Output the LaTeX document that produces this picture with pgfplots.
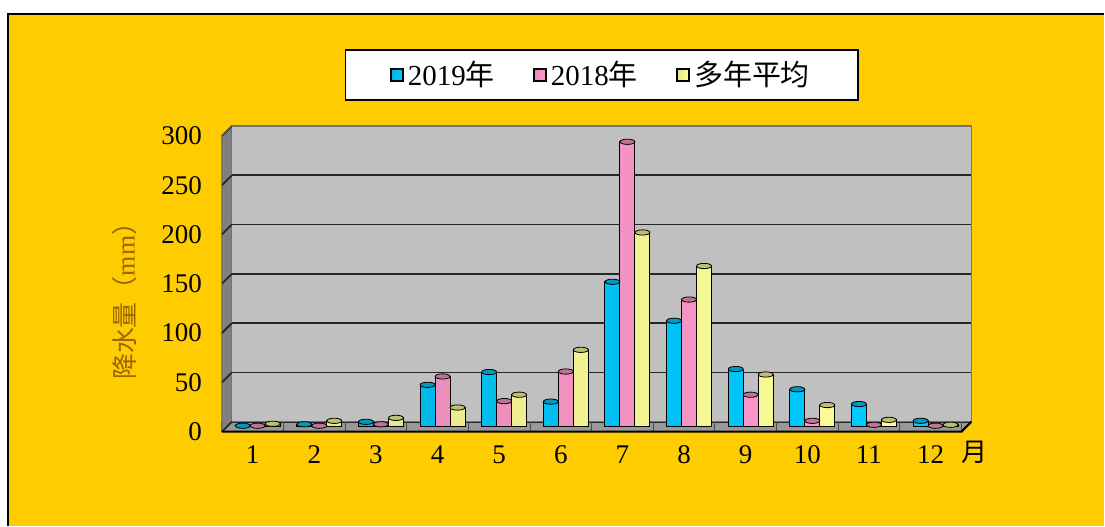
\documentclass[border=0pt]{standalone}
\usepackage{pgfplots}
\usepackage{pgfplotstable}
\pgfplotsset{compat=1.18}
\usepackage{fontspec}
\setmainfont{Liberation Serif}
\newfontfamily\cjk{Noto Sans CJK SC}
\definecolor{bg}{HTML}{FFCC00}
\definecolor{wall}{HTML}{C0C0C0}
\definecolor{side}{HTML}{808080}
\definecolor{floorc}{HTML}{999999}
\definecolor{cA}{HTML}{00CCFF}
\definecolor{cB}{HTML}{FF99CC}
\definecolor{cC}{HTML}{FFFF99}
\definecolor{ylab}{HTML}{996600}

\pgfplotstableread{
m a b c
1 1 1 3
2 2.5 1 6
3 5 2.5 9
4 42.5 51 19.5
5 55.5 26 32.5
6 25.5 56 78
7 147 289 197
8 107.5 129 163
9 58.5 32.5 53
10 38 6 22
11 23 2 7
12 6 1 2
}\data

\begin{document}
\begin{tikzpicture}
\fill[white] (0,0) rectangle (552.5pt,263pt);
\fill[bg] (4pt,0) rectangle (552.5pt,256pt);
\draw[black, line width=0.7pt] (4pt,0) -- (4pt,256pt) -- (552.5pt,256pt);
% left wall and floor
\fill[side] (111pt,47pt) -- (116pt,52pt) -- (116pt,200pt) -- (111pt,195pt) -- cycle;
\fill[floorc] (111pt,47pt) -- (116pt,52pt) -- (486pt,52pt) -- (481pt,47pt) -- cycle;
% back wall
\begin{axis}[
  at={(116pt,52pt)}, anchor=south west,
  width=370pt, height=148pt, scale only axis,
  xmin=0.5, xmax=12.5, ymin=0, ymax=300,
  xtick=\empty, ytick={0,50,...,300}, yticklabels={},
  tick style={draw=none},
  ymajorgrids, grid style={black!85, line width=0.9pt},
  axis background/.style={fill=wall},
  axis line style={draw=black!55, line width=0.6pt},
]
\end{axis}
\foreach \v in {0,50,...,300}
  \draw[black!85, line width=0.9pt] (116pt,{52pt+\v/300*148pt}) -- (111pt,{47pt+\v/300*148pt});
\foreach \k in {0,...,12}
  \draw[black!70, line width=0.5pt] ({111pt+\k*30.8333pt},47pt) -- ++(0,5pt);
\draw[black!60, line width=0.5pt] (111pt,47pt) -- (111pt,195pt) -- (116pt,200pt);
\draw[black, line width=1pt] (111pt,47pt) -- (481pt,47pt) -- (486pt,52pt);
% bars
\begin{axis}[
  at={(113.5pt,49.5pt)}, anchor=south west,
  width=370pt, height=148pt, scale only axis,
  xmin=0.5, xmax=12.5, ymin=0, ymax=300,
  enlargelimits=false, clip=false,
  axis line style={draw=none}, tick style={draw=none},
  xtick={1,...,12}, xticklabels={1,2,3,4,5,6,7,8,9,10,11,12},
  ytick={0,50,...,300},
  /pgf/number format/assume math mode=true,
  tick label style={font=\fontsize{13.5}{16}\selectfont},
  yticklabel style={xshift=-9pt, yshift=-2.5pt},
  xticklabel style={anchor=center, yshift=-14pt, xshift=-2.5pt},
  ylabel={{\cjk 降水量（}mm{\cjk ）}},
  ylabel style={at={(axis description cs:-0.138,0.446)}, anchor=center, rotate=0, color=ylab, font=\fontsize{13}{15}\selectfont},
  xlabel={\cjk 月},
  xlabel style={at={(axis description cs:1.011,-0.088)}, anchor=center, font=\fontsize{13}{15}\selectfont},
  legend columns=3,
  legend style={at={(0.507,1.189)}, anchor=center, draw=black, line width=0.8pt, fill=white,
    font=\fontsize{14.5}{17}\selectfont, inner xsep=22pt, inner ysep=3.5pt,
    /tikz/every even column/.append style={column sep=17pt}},
]
\addplot[ybar, bar width=7.5pt, bar shift=-7.5pt, draw=black, line width=0.5pt,
  left color=cA!88!black, middle color=cA!85!white, right color=cA,
  legend image code/.code={\draw[black,line width=1.1pt,fill=cA] (0pt,-3pt) rectangle (6pt,3pt);}]
  table[x=m,y=a]{\data};
\addlegendentry{2019{\cjk 年}}
\addplot[ybar, bar width=7.5pt, bar shift=0pt, draw=black, line width=0.5pt,
  left color=cB!90!black, middle color=cB!85!white, right color=cB,
  legend image code/.code={\draw[black,line width=1.1pt,fill=cB] (0pt,-3pt) rectangle (6pt,3pt);}]
  table[x=m,y=b]{\data};
\addlegendentry{2018{\cjk 年}}
\addplot[ybar, bar width=7.5pt, bar shift=7.5pt, draw=black, line width=0.5pt,
  left color=cC!90!black, middle color=cC!85!white, right color=cC,
  legend image code/.code={\draw[black,line width=1.1pt,fill=cC] (0pt,-3pt) rectangle (6pt,3pt);}]
  table[x=m,y=c]{\data};
\addlegendentry{{\cjk 多年平均}}
\addplot[only marks, mark=*, mark size=3.75pt, forget plot,
  mark options={xshift=-7.5pt, yscale=0.35, fill=cA!75!black, draw=black, line width=0.4pt}]
  table[x=m,y=a]{\data};
\addplot[only marks, mark=*, mark size=3.75pt, forget plot,
  mark options={xshift=0pt, yscale=0.35, fill=cB!75!black, draw=black, line width=0.4pt}]
  table[x=m,y=b]{\data};
\addplot[only marks, mark=*, mark size=3.75pt, forget plot,
  mark options={xshift=7.5pt, yscale=0.35, fill=cC!75!black, draw=black, line width=0.4pt}]
  table[x=m,y=c]{\data};
\end{axis}
\end{tikzpicture}
\end{document}
